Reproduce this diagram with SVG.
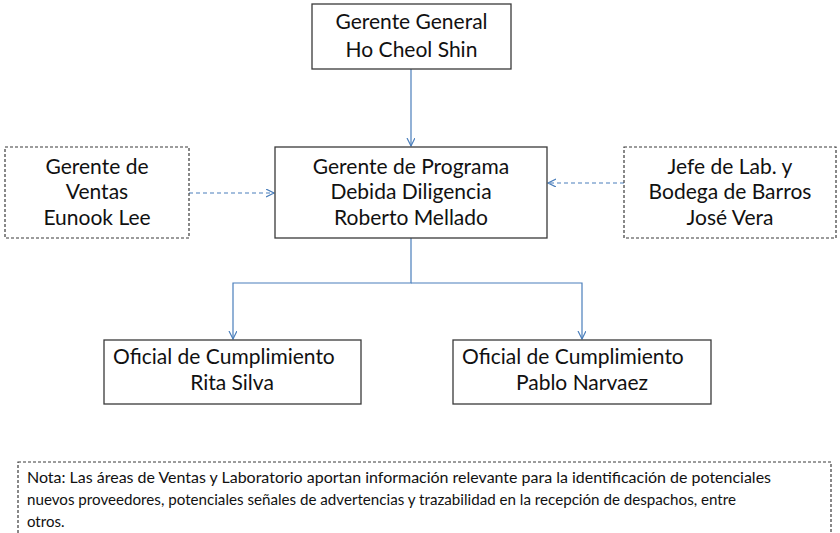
<svg xmlns="http://www.w3.org/2000/svg" width="840" height="533" viewBox="0 0 840 533">
<defs>
<style>
.box{fill:#fff;stroke:#3a3a3a;stroke-width:1.3}
.dbox{fill:#fff;stroke:#3a3a3a;stroke-width:1.2;stroke-dasharray:3 2}
.t{font-family:Lato,"Liberation Sans",sans-serif;font-size:21px;fill:#111;text-anchor:middle}
.ts{font-family:Lato,"Liberation Sans",sans-serif;font-size:21px;fill:#111}
.n{font-family:Lato,"Liberation Sans",sans-serif;font-size:15px;fill:#111}
.c{fill:none;stroke:#4a7ebb;stroke-width:1.2}
.cd{fill:none;stroke:#4a7ebb;stroke-width:1.2;stroke-dasharray:4 3}
</style>
<marker id="arr" markerWidth="10" markerHeight="10" refX="8" refY="4" orient="auto" markerUnits="userSpaceOnUse">
<path d="M0,0 L8,4 L0,8" fill="none" stroke="#4a7ebb" stroke-width="1.2"/>
</marker>
</defs>
<rect width="840" height="533" fill="#fff"/>
<g id="connectors">
<path class="c" d="M411,69 V146" marker-end="url(#arr)"/>
<path class="c" d="M411,238 V283 H233 V339" marker-end="url(#arr)"/>
<path class="c" d="M411,283 H582 V339" marker-end="url(#arr)"/>
<path class="cd" d="M189,193 H274" marker-end="url(#arr)"/>
<path class="cd" d="M624,183 H548" marker-end="url(#arr)"/>
</g>
<g id="gerente-general">
<rect class="box" x="312" y="4" width="199" height="65"/>
<text class="t" x="411.5" y="29">Gerente General</text>
<text class="t" x="411.5" y="57">Ho Cheol Shin</text>
</g>
<g id="gerente-programa">
<rect class="box" x="275" y="147" width="272" height="91"/>
<text class="t" x="411" y="174">Gerente de Programa</text>
<text class="t" x="411" y="199">Debida Diligencia</text>
<text class="t" x="411" y="225">Roberto Mellado</text>
</g>
<g id="gerente-ventas">
<rect class="dbox" x="5" y="147" width="184" height="91"/>
<text class="t" x="97" y="174">Gerente de</text>
<text class="t" x="97" y="199">Ventas</text>
<text class="t" x="97" y="225">Eunook Lee</text>
</g>
<g id="jefe-lab">
<rect class="dbox" x="624" y="147" width="212" height="91"/>
<text class="t" x="730" y="174">Jefe de Lab. y</text>
<text class="t" x="730" y="199">Bodega de Barros</text>
<text class="t" x="730" y="225">José Vera</text>
</g>
<g id="oficial-rita">
<rect class="box" x="104" y="340" width="257" height="64"/>
<text class="ts" x="113" y="364">Oficial de Cumplimiento</text>
<text class="t" x="232" y="390">Rita Silva</text>
</g>
<g id="oficial-pablo">
<rect class="box" x="453" y="340" width="258" height="64"/>
<text class="ts" x="462" y="364">Oficial de Cumplimiento</text>
<text class="t" x="582" y="390">Pablo Narvaez</text>
</g>
<g id="nota">
<rect class="dbox" x="18" y="462" width="813" height="90"/>
<text class="n" x="27" y="483" textLength="744" lengthAdjust="spacingAndGlyphs">Nota: Las áreas de Ventas y Laboratorio aportan información relevante para la identificación de potenciales</text>
<text class="n" x="27" y="505" textLength="709" lengthAdjust="spacingAndGlyphs">nuevos proveedores, potenciales señales de advertencias y trazabilidad en la recepción de despachos, entre</text>
<text class="n" x="27" y="527">otros.</text>
</g>
</svg>
